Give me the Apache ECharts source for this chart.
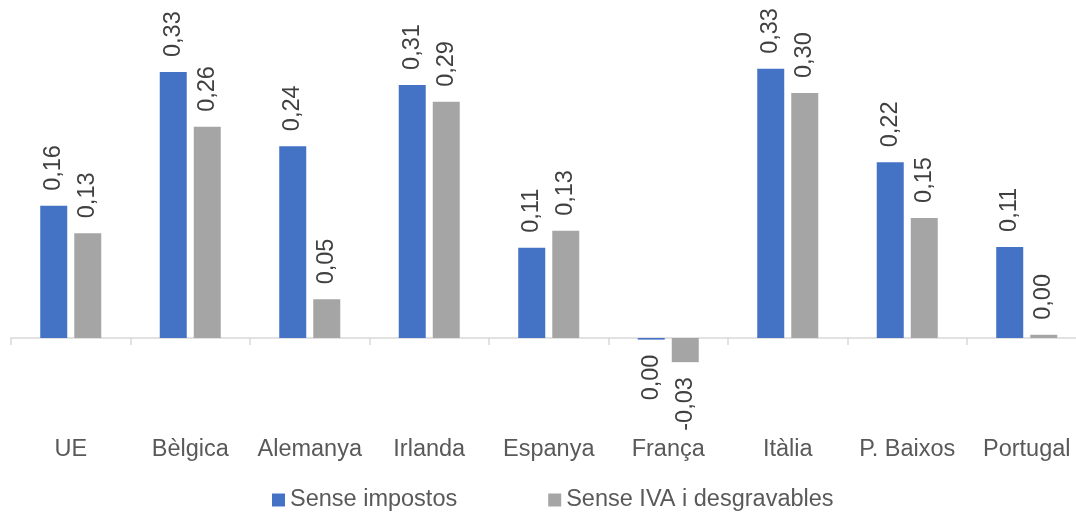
<!DOCTYPE html>
<html>
<head>
<meta charset="utf-8">
<script src="https://cdn.jsdelivr.net/npm/echarts@6/dist/echarts.min.js"></script>
<style>html,body{margin:0;padding:0;background:#fff;overflow:hidden;width:1076px;height:514px}#c{width:1087px;height:514px}</style>
</head>
<body>
<div id="c"></div>
<script>
const categories = ['UE', 'Bèlgica', 'Alemanya', 'Irlanda', 'Espanya', 'França', 'Itàlia', 'P. Baixos', 'Portugal'];
const senseImpostos = [0.164, 0.330, 0.238, 0.314, 0.112, -0.002, 0.334, 0.218, 0.113];
const senseIVA = [0.130, 0.262, 0.048, 0.293, 0.133, -0.030, 0.304, 0.149, 0.004];
const seriesNames = ['Sense impostos', 'Sense IVA i desgravables'];

const FONT = 'Liberation Sans, Arial, sans-serif';
const FS = 23.5;

function fmt(v) {
  let s = Math.abs(v) < 0.005 ? (0).toFixed(2) : v.toFixed(2);
  return s.replace('.', ',');
}
function items(arr) {
  return arr.map(v => ({
    value: v,
    label: v < 0 ? { position: 'bottom', align: 'right' } : { position: 'top', align: 'left' }
  }));
}
const labelBase = {
  show: true,
  rotate: 90,
  distance: 15,
  verticalAlign: 'middle',
  color: '#404040',
  fontFamily: FONT,
  fontSize: FS,
  formatter: p => fmt(p.value)
};

const chart = echarts.init(document.getElementById('c'), null, { renderer: 'canvas' });
chart.setOption({
  animation: false,
  color: ['#4472C4', '#A5A5A5'],
  grid: { left: 11, right: 0.5, top: 15.6, bottom: 135.7, containLabel: false },
  legend: {
    data: seriesNames,
    left: 267,
    top: 483,
    icon: 'rect',
    itemWidth: 13,
    itemHeight: 13,
    itemGap: 91,
    textStyle: { color: '#595959', fontFamily: FONT, fontSize: FS }
  },
  xAxis: {
    type: 'category',
    data: categories,
    axisLine: { onZero: true, lineStyle: { color: '#D9D9D9', width: 1.5 } },
    axisTick: { show: true, length: 7, lineStyle: { color: '#D9D9D9', width: 1.5 } },
    axisLabel: { color: '#595959', fontFamily: FONT, fontSize: FS, margin: 59, interval: 0 }
  },
  yAxis: {
    type: 'value',
    min: -0.05,
    max: 0.40,
    show: false,
    splitLine: { show: false }
  },
  series: [
    { name: seriesNames[0], type: 'bar', data: items(senseImpostos), barWidth: 27, barGap: '26%', label: labelBase },
    { name: seriesNames[1], type: 'bar', data: items(senseIVA), barWidth: 27, barGap: '26%', label: labelBase }
  ]
});
</script>
</body>
</html>
